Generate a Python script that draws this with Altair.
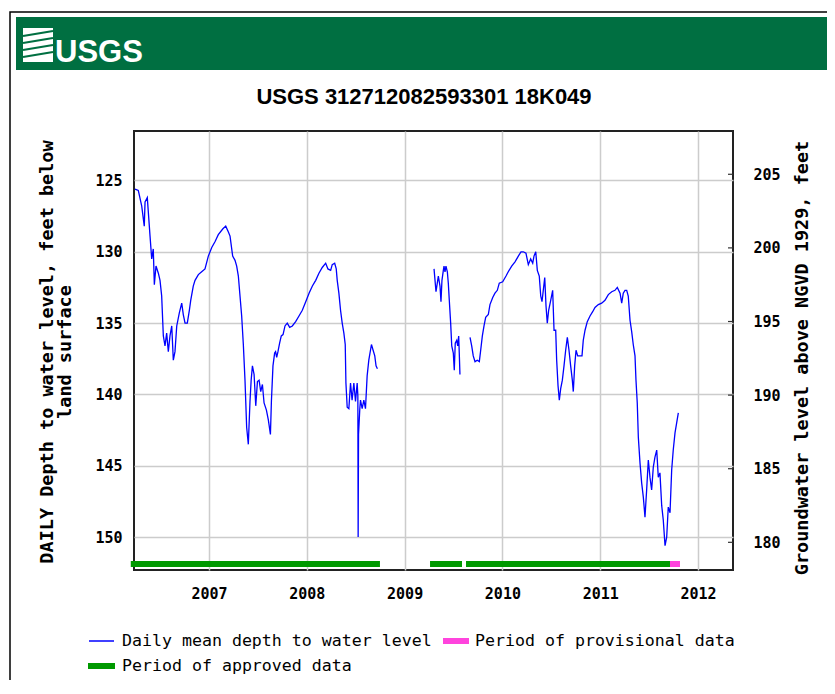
import altair as alt
import pandas as pd

# ---------------- data (decimal year, depth below land surface, ft) ----------------
seg1_year = [2006.243, 2006.277, 2006.312, 2006.338, 2006.346, 2006.369, 2006.397, 2006.414, 2006.430, 2006.441,
             2006.458, 2006.482, 2006.499, 2006.516, 2006.533, 2006.550, 2006.567, 2006.584, 2006.601, 2006.619,
             2006.635, 2006.652, 2006.670, 2006.696, 2006.721, 2006.737, 2006.755, 2006.778, 2006.799, 2006.813,
             2006.839, 2006.857, 2006.891, 2006.925, 2006.959, 2006.993, 2007.028, 2007.061, 2007.095, 2007.140,
             2007.171, 2007.197, 2007.215, 2007.242, 2007.266, 2007.283, 2007.300, 2007.317, 2007.334, 2007.351,
             2007.368, 2007.385, 2007.402, 2007.419, 2007.431, 2007.444, 2007.461, 2007.478, 2007.495, 2007.512,
             2007.529, 2007.546, 2007.563, 2007.587, 2007.607, 2007.628, 2007.638, 2007.654, 2007.671, 2007.681,
             2007.692, 2007.705, 2007.722, 2007.739, 2007.757, 2007.777, 2007.800, 2007.825, 2007.852, 2007.886,
             2007.920, 2007.954, 2007.989, 2008.023, 2008.057, 2008.091, 2008.124, 2008.158, 2008.193, 2008.216,
             2008.244, 2008.260, 2008.285, 2008.301, 2008.311, 2008.328, 2008.345, 2008.362, 2008.379, 2008.393,
             2008.400, 2008.413, 2008.430, 2008.447, 2008.463, 2008.481, 2008.498, 2008.515, 2008.522, 2008.525,
             2008.529, 2008.542, 2008.549, 2008.566, 2008.583, 2008.600, 2008.617, 2008.634, 2008.661, 2008.678,
             2008.695, 2008.708, 2008.722]
seg1_depth = [125.6, 125.7, 126.8, 128.2, 126.5, 126.2, 128.9, 130.5, 129.8, 132.3,
              131.0, 131.5, 132.0, 133.1, 135.9, 136.6, 135.7, 137.0, 135.9, 135.2,
              137.6, 137.0, 135.2, 134.3, 133.6, 134.4, 135.0, 135.0, 134.1, 133.4,
              132.4, 132.0, 131.6, 131.4, 131.2, 130.3, 129.7, 129.3, 128.8, 128.4,
              128.2, 128.6, 128.9, 130.3, 130.6, 131.0, 131.7, 133.1, 134.5, 136.5,
              139.0, 142.3, 143.5, 140.5, 139.0, 138.0, 138.6, 140.8, 139.1, 139.0,
              139.8, 139.3, 140.6, 141.1, 141.8, 142.8, 140.5, 138.0, 137.1, 137.0,
              137.4, 137.0, 136.4, 135.9, 135.8, 135.2, 135.0, 135.3, 135.2, 134.9,
              134.5, 134.1, 133.5, 132.9, 132.4, 132.0, 131.5, 131.1, 130.8, 131.2,
              131.3, 130.9, 130.8, 131.2, 132.0, 132.9, 134.1, 135.0, 135.7, 136.5,
              139.2, 140.9, 141.0, 139.2, 140.4, 139.2, 140.5, 139.2, 140.1, 150.0,
              142.8, 141.0, 140.4, 141.0, 140.4, 141.0, 138.7, 137.6, 136.5, 136.9,
              137.3, 138.0, 138.2]

seg2_year = [2009.301, 2009.321, 2009.345, 2009.362, 2009.372, 2009.382, 2009.396, 2009.403, 2009.413, 2009.423,
             2009.437, 2009.447, 2009.457, 2009.471, 2009.482, 2009.498, 2009.508, 2009.518, 2009.533, 2009.543,
             2009.553, 2009.559, 2009.566]
seg2_depth = [131.2, 132.8, 131.7, 132.4, 133.5, 132.0, 131.3, 131.0, 131.4, 131.0,
              131.4, 132.2, 133.4, 135.0, 136.6, 137.1, 138.3, 136.4, 136.2, 136.6,
              135.9, 137.1, 138.6]

seg3_year = [2009.669, 2009.686, 2009.702, 2009.720, 2009.743, 2009.764, 2009.778, 2009.795, 2009.812, 2009.829,
             2009.856, 2009.873, 2009.901, 2009.924, 2009.948, 2009.968, 2010.003, 2010.037, 2010.060, 2010.095,
             2010.129, 2010.163, 2010.190, 2010.214, 2010.241, 2010.265, 2010.289, 2010.310, 2010.323, 2010.341,
             2010.357, 2010.377, 2010.392, 2010.405, 2010.418, 2010.433, 2010.446, 2010.459, 2010.473, 2010.494,
             2010.514, 2010.528, 2010.545, 2010.555, 2010.569, 2010.582, 2010.596, 2010.613, 2010.630, 2010.647,
             2010.664, 2010.681, 2010.698, 2010.715, 2010.725, 2010.739, 2010.753, 2010.770, 2010.793, 2010.814,
             2010.827, 2010.845, 2010.868, 2010.896, 2010.923, 2010.947, 2010.981, 2011.015, 2011.049, 2011.083,
             2011.118, 2011.151, 2011.175, 2011.203, 2011.220, 2011.236, 2011.254, 2011.271, 2011.287, 2011.305,
             2011.322, 2011.338, 2011.356, 2011.366, 2011.379, 2011.390, 2011.407, 2011.424, 2011.441, 2011.458,
             2011.475, 2011.492, 2011.509, 2011.526, 2011.543, 2011.560, 2011.578, 2011.594, 2011.611, 2011.629,
             2011.645, 2011.663, 2011.680, 2011.696, 2011.714, 2011.731, 2011.747, 2011.765, 2011.782, 2011.799]
seg3_depth = [136.0, 136.6, 137.3, 137.7, 137.6, 137.7, 136.9, 135.9, 135.2, 134.6,
              134.4, 133.7, 133.2, 132.9, 132.7, 132.2, 132.1, 131.7, 131.4, 131.0,
              130.7, 130.3, 130.0, 130.0, 130.1, 130.9, 130.5, 130.8, 130.3, 130.0,
              131.3, 131.7, 133.1, 133.5, 132.7, 131.8, 133.8, 135.0, 134.1, 133.4,
              132.7, 135.5, 135.5, 137.6, 139.4, 140.4, 139.6, 139.0, 138.0, 136.9,
              136.0, 136.9, 138.0, 139.0, 139.8, 138.0, 136.9, 137.3, 137.3, 137.3,
              136.2, 135.5, 134.9, 134.5, 134.2, 133.9, 133.7, 133.6, 133.4, 133.0,
              132.8, 132.7, 132.5, 132.9, 133.6, 132.9, 132.7, 132.7, 133.1, 134.8,
              135.6, 136.5, 137.3, 139.0, 140.6, 143.0, 144.8, 146.2, 147.2, 148.6,
              146.7, 144.6, 145.8, 146.7, 145.1, 144.4, 143.9, 145.8, 145.5, 147.8,
              148.8, 150.6, 150.0, 147.9, 148.3, 145.3, 143.9, 142.7, 142.0, 141.3]

approved_start = [2006.200, 2009.260, 2009.628]
approved_end = [2008.748, 2009.587, 2011.714]
provisional_start = [2011.714]
provisional_end = [2011.816]

year_ticks = [2007, 2008, 2009, 2010, 2011, 2012]
depth_ticks = [125, 130, 135, 140, 145, 150]
elev_ticks = [180, 185, 190, 195, 200, 205]

title_text = "USGS 312712082593301 18K049"
left_title = ["DAILY Depth to water level, feet below", "land surface"]
right_title = "Groundwater level above NGVD 1929, feet"
legend_line = "Daily mean depth to water level"
legend_prov = "Period of provisional data"
legend_appr = "Period of approved data"

# ---------------- build tables ----------------
rows = []
for seg, (ys, ds) in enumerate([(seg1_year, seg1_depth), (seg2_year, seg2_depth), (seg3_year, seg3_depth)]):
    for y, d in zip(ys, ds):
        rows.append({"year": y, "depth": d, "seg": seg})
line_df = pd.DataFrame(rows)
appr_df = pd.DataFrame({"start": approved_start, "end": approved_end})
prov_df = pd.DataFrame({"start": provisional_start, "end": provisional_end})
elev_df = pd.DataFrame({"elev": elev_ticks})

MONO = "DejaVu Sans Mono"
SANS = "Liberation Sans"

xscale = alt.Scale(domain=[2006.233, 2012.358], nice=False, zero=False)
xaxis = alt.Axis(values=year_ticks, format="d", grid=True, ticks=False, domain=False,
                 labelFont=MONO, labelFontWeight="bold", labelFontSize=15, labelColor="black",
                 labelPadding=16, gridColor="#cccccc", gridWidth=1.5, title=None)

line = alt.Chart(line_df).mark_line(color="#0000ff", strokeWidth=1.3, clip=False).encode(
    x=alt.X("year:Q", scale=xscale, axis=xaxis),
    y=alt.Y("depth:Q",
            scale=alt.Scale(domain=[121.53, 152.31], reverse=True, nice=False, zero=False),
            axis=alt.Axis(orient="left", values=depth_ticks, grid=True, ticks=False, domain=False,
                          labelFont=MONO, labelFontWeight="bold", labelFontSize=15, labelColor="black",
                          labelPadding=12, gridColor="#cccccc", gridWidth=1.5, title=None)),
    detail="seg:N",
    order="year:Q",
)

appr = alt.Chart(appr_df).mark_rule(color="#009900", strokeWidth=6, strokeCap="butt", clip=False).encode(
    x=alt.X("start:Q", scale=xscale, axis=xaxis), x2="end:Q", y=alt.value(433))
prov = alt.Chart(prov_df).mark_rule(color="#ff44dd", strokeWidth=6, strokeCap="butt", clip=False).encode(
    x=alt.X("start:Q", scale=xscale, axis=xaxis), x2="end:Q", y=alt.value(433))

right_ticks = alt.Chart(elev_df).mark_rule(color="#333333", strokeWidth=1.2).encode(
    y=alt.Y("elev:Q",
            scale=alt.Scale(domain=[178.12, 207.94], nice=False, zero=False),
            axis=alt.Axis(orient="right", values=elev_ticks, grid=False, ticks=False, domain=False,
                          labelFont=MONO, labelFontWeight="bold", labelFontSize=15, labelColor="black",
                          labelPadding=20, title=None)),
    x=alt.value(594), x2=alt.value(599))


def txt(text, x, y, **kw):
    return alt.Chart(pd.DataFrame({"t": [text]})).mark_text(**kw).encode(
        text="t:N", x=alt.value(x), y=alt.value(y))


def box(x, x2, y, y2, **kw):
    return alt.Chart(pd.DataFrame({"a": [0]})).mark_rect(**kw).encode(
        x=alt.value(x), x2=alt.value(x2), y=alt.value(y), y2=alt.value(y2))


def seg_rule(x, x2, y, y2, **kw):
    return alt.Chart(pd.DataFrame({"a": [0]})).mark_rule(**kw).encode(
        x=alt.value(x), x2=alt.value(x2), y=alt.value(y), y2=alt.value(y2))


# page frame and header
border = box(-124, 720, -119, 600, fill="white", fillOpacity=0, stroke="black", strokeWidth=1.5)
header = box(-118, 720, -114, -61, fill="#006f41")
icon_bg = box(-111, -81, -103, -69, fill="white")
icon_waves = [
    seg_rule(-111, -81, -95, -100, color="#006f41", strokeWidth=2),
    seg_rule(-111, -81, -88, -93, color="#006f41", strokeWidth=2),
    seg_rule(-111, -81, -81, -86, color="#006f41", strokeWidth=2),
    seg_rule(-111, -81, -74, -79, color="#006f41", strokeWidth=2),
]
logo_text = txt("USGS", -79, -69, font=SANS, fontWeight="bold", fontSize=31, color="white",
                align="left", baseline="alphabetic")
title = txt(title_text, 290, -34, font=SANS, fontWeight="bold", fontSize=22, color="black",
            align="center", baseline="middle")

# axis titles
lt1 = txt(left_title[0], -87, 221, font=MONO, fontWeight="bold", fontSize=18.5, angle=270,
          align="center", baseline="middle", color="black")
lt2 = txt(left_title[1], -69, 221, font=MONO, fontWeight="bold", fontSize=18.5, angle=270,
          align="center", baseline="middle", color="black")
rt = txt(right_title, 668, 227, font=MONO, fontWeight="bold", fontSize=18.5, angle=270,
         align="center", baseline="middle", color="black")

# legend
leg = [
    seg_rule(-45, -20, 510, 510, color="#0000ff", strokeWidth=1.5),
    txt(legend_line, -12, 510, font=MONO, fontSize=16.6, align="left", baseline="middle", color="black"),
    seg_rule(309, 335, 510, 510, color="#ff44dd", strokeWidth=6, strokeCap="butt"),
    txt(legend_prov, 341, 510, font=MONO, fontSize=16.6, align="left", baseline="middle", color="black"),
    seg_rule(-46, -19, 535, 535, color="#009900", strokeWidth=6, strokeCap="butt"),
    txt(legend_appr, -12, 535, font=MONO, fontSize=16.6, align="left", baseline="middle", color="black"),
]

chart = alt.layer(
    line, appr, prov, right_ticks,
    border, header, icon_bg, *icon_waves, logo_text, title, lt1, lt2, rt, *leg
).resolve_scale(y="independent").properties(
    width=599, height=439,
    padding={"left": 126, "top": 123, "right": 94, "bottom": 110},
    autosize=alt.AutoSizeParams(type="none"),
    background="white",
).configure_view(stroke="#222222", strokeWidth=2)

chart.save("out.html", embed_options={"renderer": "svg", "actions": False})
